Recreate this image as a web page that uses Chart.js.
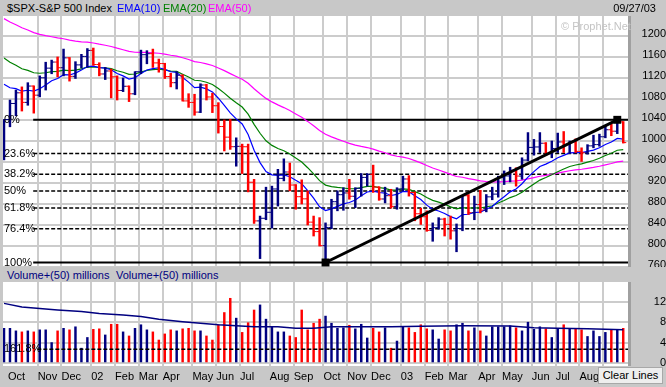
<!DOCTYPE html>
<html>
<head>
<meta charset="utf-8">
<script src="https://cdn.jsdelivr.net/npm/chart.js@4.4.1/dist/chart.umd.min.js"></script>
<style>
  html, body { margin: 0; padding: 0; }
  body { width: 666px; height: 387px; background: #c8c8c8; position: relative; overflow: hidden;
         font: 11px "Liberation Sans", Arial, sans-serif; }
  .t { position: absolute; line-height: 13px; white-space: nowrap; }
  canvas { position: absolute; }
  .strip { position: absolute; left: 628px; width: 3px; background: #a0a0a0; }
  #clear { position: absolute; left: 598px; top: 367px; width: 63px; height: 15px; background: #eeeeee;
           border: 1px solid #a8a8a8; text-align: center; line-height: 15px; }
</style>
</head>
<body>
<canvas id="price" width="663" height="251" style="left:3px;top:16px"></canvas>
<canvas id="volume" width="663" height="105" style="left:3px;top:282px"></canvas>
<div class="strip" style="top:16px;height:251px"></div>
<div class="strip" style="top:282px;height:84px"></div>
<div class="t" style="left:7px;top:2px">$SPX-S&amp;P 500 Index</div>
<div class="t" style="left:117px;top:2px;color:#0000ff">EMA(10)</div>
<div class="t" style="left:163px;top:2px;color:#008000">EMA(20)</div>
<div class="t" style="left:208px;top:2px;color:#ff00ff">EMA(50)</div>
<div class="t" style="right:10px;top:2px">09/27/03</div>
<div class="t" style="left:561px;top:20px;color:#c4c4c4">© Prophet.Net</div>
<div class="t" style="left:7px;top:269px;color:#000080">Volume+(50) millions</div>
<div class="t" style="left:116px;top:269px;color:#000080">Volume+(50) millions</div>
<div id="clear">Clear Lines</div>
<script>
// weekly bars, index 0 = first week shown (late Sep 2001), 104 = last (late Sep 2003)
const opens = [965.8, 1040.9, 1071.4, 1091.7, 1073.5, 1104.6, 1087.2, 1120.3, 1138.7, 1150.3,
  1139.5, 1158.3, 1123.1, 1144.9, 1161.0, 1172.5, 1145.6, 1127.6, 1133.3, 1122.2,
  1096.2, 1104.2, 1089.8, 1131.8, 1164.3, 1166.2, 1148.7, 1147.4, 1122.7, 1111.0,
  1125.2, 1076.3, 1073.4, 1055.0, 1106.6, 1083.8, 1067.1, 1027.5, 1007.3, 989.1,
  989.8, 989.0, 921.4, 847.8, 852.8, 864.2, 908.6, 928.8, 940.9, 916.1,
  893.9, 889.8, 845.4, 827.4, 800.6, 835.3, 884.4, 897.7, 901.0, 894.7,
  909.8, 930.6, 936.3, 912.2, 889.5, 895.8, 875.4, 908.6, 927.6, 901.8,
  861.4, 855.7, 829.7, 834.9, 851.2, 841.2, 828.9, 833.3, 895.8, 863.5,
  878.9, 868.3, 893.6, 898.8, 930.1, 933.4, 944.3, 933.2, 963.6, 987.8,
  988.6, 995.7, 976.2, 985.7, 998.1, 993.3, 998.7, 980.2, 977.6, 990.7,
  993.1, 1008.0, 1021.4, 1018.6, 1036.3];
const highs = [1041, 1078, 1097, 1103, 1111, 1105, 1124, 1150, 1154, 1160,
  1175, 1159, 1151, 1165, 1176, 1177, 1149, 1140, 1137, 1124,
  1120, 1105, 1132, 1173, 1172, 1175, 1156, 1148, 1129, 1132,
  1126, 1090, 1089, 1109, 1108, 1091, 1073, 1040, 1041, 1006,
  994, 994, 927, 857, 912, 914, 946, 966, 958, 917,
  926, 905, 857, 854, 844, 889, 905, 911, 927, 911,
  938, 938, 954, 913, 912, 908, 911, 933, 934, 903,
  872, 867, 844, 854, 853, 857, 842, 896, 898, 895,
  906, 898, 912, 933, 943, 950, 949, 968, 1016, 1003,
  1016, 997, 1000, 1015, 1018, 1000, 1004, 987, 993, 1011,
  1013, 1029, 1032, 1040.3, 1037];
const lows = [964, 1027, 1048, 1057, 1068, 1053, 1084, 1097, 1128, 1122,
  1124, 1114, 1119, 1139, 1140, 1144, 1124, 1117, 1082, 1078,
  1094, 1075, 1088, 1128, 1147, 1140, 1131, 1119, 1103, 1099,
  1076, 1064, 1049, 1054, 1078, 1054, 1015, 981, 984, 952,
  938, 903, 843, 776, 850, 834, 876, 924, 905, 870,
  880, 840, 819, 800, 768.6, 833, 867, 868, 889, 873,
  895, 914, 902, 887, 882, 872, 870, 905, 895, 848,
  841, 828, 809, 832, 819, 813, 789, 829, 860, 850,
  863, 865, 888, 893, 917, 922, 914, 927, 962, 973,
  978, 972, 968, 978, 978, 976, 978, 961, 975, 987,
  990, 1006, 1010, 1014, 996];
const closes = [1040.9, 1071.4, 1091.7, 1073.5, 1104.6, 1087.2, 1120.3, 1138.7, 1150.3, 1139.5,
  1158.3, 1123.1, 1144.9, 1161.0, 1172.5, 1145.6, 1127.6, 1133.3, 1122.2, 1096.2,
  1104.2, 1089.8, 1131.8, 1164.3, 1166.2, 1148.7, 1147.4, 1122.7, 1111.0, 1125.2,
  1076.3, 1073.4, 1055.0, 1106.6, 1083.8, 1067.1, 1027.5, 1007.3, 989.1, 989.8,
  989.0, 921.4, 847.8, 852.8, 864.2, 908.6, 928.8, 940.9, 916.1, 893.9,
  889.8, 845.4, 827.4, 800.6, 835.3, 884.4, 897.7, 901.0, 894.7, 909.8,
  930.6, 936.3, 912.2, 889.5, 895.8, 875.4, 908.6, 927.6, 901.8, 861.4,
  855.7, 829.7, 834.9, 851.2, 841.2, 828.9, 833.3, 895.8, 863.5, 878.9,
  868.3, 893.6, 898.8, 930.1, 933.4, 944.3, 933.2, 963.6, 987.8, 988.6,
  995.7, 976.2, 985.7, 998.1, 993.3, 998.7, 980.2, 977.6, 990.7, 993.1,
  1008.0, 1021.4, 1018.6, 1036.3, 996.9];
const volumes = [6.8, 6.8, 6.3, 6.1, 6.3, 6.1, 6.5, 6.5, 4.0, 6.3,
  6.8, 6.5, 7.1, 2.9, 5.0, 6.6, 6.7, 5.5, 7.6, 7.6,
  6.1, 5.3, 6.8, 7.5, 6.5, 6.1, 4.5, 5.7, 6.5, 6.3,
  6.7, 6.8, 6.3, 6.3, 5.3, 4.5, 7.5, 9.9, 12.7, 8.8,
  6.0, 7.9, 10.4, 11.4, 8.6, 7.1, 6.1, 6.1, 5.3, 5.0,
  10.4, 6.5, 7.8, 8.6, 9.2, 7.8, 6.8, 6.9, 7.4, 6.7,
  7.6, 4.9, 6.8, 6.1, 6.9, 2.9, 4.3, 7.1, 6.9, 6.0,
  7.5, 6.7, 6.5, 4.7, 6.5, 6.3, 7.5, 7.8, 6.3, 6.9,
  6.3, 5.3, 7.1, 7.1, 7.1, 7.3, 6.9, 6.3, 8.0, 6.6,
  7.1, 6.7, 5.0, 6.8, 7.5, 6.8, 6.8, 6.5, 5.2, 6.3,
  5.2, 6.0, 6.5, 6.5, 6.8];
const ema10 = [1108, 1101.3, 1099.6, 1094.8, 1096.6, 1094.9, 1099.5, 1106.6, 1114.6, 1119.1,
  1126.2, 1125.7, 1129.2, 1135.0, 1141.8, 1142.5, 1139.8, 1138.6, 1135.6, 1128.5,
  1124.0, 1117.8, 1120.4, 1128.4, 1135.2, 1137.7, 1139.4, 1136.4, 1131.8, 1130.6,
  1120.7, 1112.1, 1101.7, 1102.6, 1099.2, 1093.4, 1081.4, 1067.9, 1053.6, 1042.0,
  1032.4, 1012.2, 982.3, 958.8, 941.6, 935.6, 934.4, 935.5, 932.0, 925.1,
  918.7, 905.4, 891.2, 874.7, 867.5, 870.6, 875.5, 880.1, 882.8, 887.7,
  895.5, 902.9, 904.6, 901.9, 900.8, 896.2, 898.4, 903.7, 903.4, 895.7,
  888.5, 877.8, 870.0, 866.6, 861.9, 855.9, 851.8, 859.8, 860.5, 863.8,
  864.6, 869.9, 875.2, 885.1, 893.9, 903.1, 908.6, 918.6, 931.1, 941.6,
  951.4, 955.9, 961.4, 968.0, 972.6, 977.4, 977.9, 977.8, 980.1, 982.5,
  987.1, 993.4, 998.0, 1004.9, 1003.5];
const ema20 = [1158, 1149.8, 1144.2, 1137.5, 1134.4, 1129.9, 1129.0, 1129.9, 1131.9, 1132.6,
  1135.0, 1133.9, 1134.9, 1137.4, 1140.8, 1141.2, 1139.9, 1139.3, 1137.7, 1133.7,
  1130.9, 1127.0, 1127.5, 1131.0, 1134.3, 1135.7, 1136.8, 1135.5, 1133.1, 1132.4,
  1127.0, 1121.9, 1115.6, 1114.7, 1111.8, 1107.5, 1099.9, 1091.1, 1081.4, 1072.7,
  1064.7, 1051.1, 1031.7, 1014.7, 1000.4, 991.6, 985.6, 981.4, 975.2, 967.4,
  960.0, 949.1, 937.5, 924.5, 916.0, 913.0, 911.5, 910.5, 909.0, 909.1,
  911.1, 913.5, 913.4, 911.1, 909.6, 906.4, 906.6, 908.6, 907.9, 903.5,
  898.9, 892.3, 886.9, 883.5, 879.4, 874.6, 870.7, 873.1, 872.2, 872.8,
  872.4, 874.4, 876.7, 881.8, 886.7, 892.2, 896.1, 902.5, 910.6, 918.1,
  925.5, 930.3, 935.6, 941.5, 946.5, 951.4, 954.2, 956.4, 959.7, 962.8,
  967.1, 972.3, 976.7, 982.4, 983.7];
const ema50 = [1233, 1226.7, 1221.4, 1215.6, 1211.3, 1206.4, 1203.0, 1200.5, 1198.5, 1196.2,
  1194.7, 1191.9, 1190.1, 1188.9, 1188.3, 1186.6, 1184.3, 1182.3, 1179.9, 1176.7,
  1173.8, 1170.5, 1169.0, 1168.8, 1168.7, 1167.9, 1167.1, 1165.4, 1163.2, 1161.7,
  1158.4, 1155.1, 1151.1, 1149.4, 1146.8, 1143.7, 1139.1, 1134.0, 1128.3, 1122.9,
  1117.6, 1109.9, 1099.6, 1090.0, 1081.1, 1074.4, 1068.7, 1063.6, 1057.9, 1051.4,
  1045.1, 1037.3, 1029.0, 1020.1, 1012.8, 1007.8, 1003.5, 999.5, 995.4, 992.0,
  989.6, 987.5, 984.6, 980.8, 977.5, 973.5, 970.9, 969.2, 966.6, 962.5,
  958.3, 953.2, 948.6, 944.8, 940.7, 936.3, 932.3, 930.9, 928.2, 926.3,
  924.0, 922.8, 921.9, 922.2, 922.6, 923.5, 923.9, 925.4, 927.9, 930.3,
  932.8, 934.5, 936.5, 938.9, 941.1, 943.3, 944.8, 946.1, 947.8, 949.6,
  951.9, 954.6, 957.1, 960.2, 961.7];
const volAvgWeeks = [0, 3, 6, 9, 13, 16, 20, 23, 26, 30, 33, 36, 39, 42, 46, 49, 52, 55, 60, 65, 70, 77, 85, 89, 93, 98, 104];
const volAvg = [11.7, 11.0, 10.7, 10.4, 10.1, 9.7, 9.4, 9.1, 8.6, 8.1, 7.8, 7.5, 7.3, 7.1, 7.1, 6.8, 6.8, 7.1, 7.1, 7.1, 7.2, 7.3, 7.25, 6.9, 6.8, 6.7, 6.5];

const monthWeeks = [1, 6, 10, 15, 19, 23, 27, 32, 36, 40, 45, 49, 54, 58, 62, 67, 71, 75, 80, 84, 89, 93, 97, 101];
const monthLabels = ['Oct', 'Nov', 'Dec', '02', 'Feb', 'Mar', 'Apr', 'May', 'Jun', 'Jul', 'Aug', 'Sep',
  'Oct', 'Nov', 'Dec', '03', 'Feb', 'Mar', 'Apr', 'May', 'Jun', 'Jul', 'Aug', 'Sep'];
const priceTicks = [760, 800, 840, 880, 920, 960, 1000, 1040, 1080, 1120, 1160, 1200];
const volumeTicks = [0, 4, 8, 12];

const fibLabels = ['0%', '23.6%', '38.2%', '50%', '61.8%', '76.4%', '100%'];
const fibValues = [1040.3, 976.2, 936.5, 904.5, 872.4, 832.7, 768.6];
const extLabel = '161.8%';
const extValue = 2.7;   // where the 161.8% line lands, in the volume pane
const trendWeeks = [54, 103];
const trendValues = [768.6, 1040.3];

const NAVY = '#000080', RED = '#ff0000', GRID = '#cccccc';
const FONT = {family: '"Liberation Sans", Arial, sans-serif', size: 11};
const X_MIN = -0.17, X_MAX = 104.8;
const GRID_SHIFT = 0.35;

const barColors = closes.map((c, i) => c >= (i ? closes[i - 1] : opens[0]) ? NAVY : RED);

const whiteArea = {
    id: 'whiteArea',
    beforeDraw(chart) {
        const {ctx, chartArea: a} = chart;
        ctx.save();
        ctx.fillStyle = '#ffffff';
        ctx.fillRect(a.left, a.top, a.right - a.left, a.bottom - a.top);
        ctx.restore();
    }
};

const levelLabels = {
    id: 'levelLabels',
    afterDatasetsDraw(chart, args, opts) {
        const {ctx, chartArea: a, scales} = chart;
        ctx.save();
        ctx.font = '11px "Liberation Sans", Arial, sans-serif';
        ctx.fillStyle = '#000';
        ctx.textBaseline = 'middle';
        opts.items.forEach(it => ctx.fillText(it.text, a.left + 1, scales.y.getPixelForValue(it.value)));
        ctx.restore();
    }
};

function noPadding(s) {
    s.paddingTop = 0;
    s.paddingBottom = 0;
    s.paddingLeft = 0;
    s.paddingRight = 0;
}

function xAxis(showLabels) {
    return {
        type: 'linear', min: X_MIN, max: X_MAX, offset: false,
        afterBuildTicks: s => { s.ticks = monthWeeks.map(w => ({value: w - GRID_SHIFT})); },
        afterFit: s => { s.height = showLabels ? 21 : 0; noPadding(s); },
        ticks: {
            display: showLabels, callback: (v, i) => monthLabels[i], align: 'start',
            autoSkip: false, maxRotation: 0, padding: 4, color: '#000', font: FONT
        },
        grid: {color: c => c.index === 0 ? 'rgba(0,0,0,0)' : GRID, lineWidth: 2, drawTicks: false, offset: false},
        border: {display: false}
    };
}

function yAxis(min, max, ticks, padding, labelOffset) {
    return {
        position: 'right', min: min, max: max,
        afterBuildTicks: s => { s.ticks = ticks.map(v => ({value: v})); },
        afterFit: s => { s.width = 38; noPadding(s); },
        ticks: {
            color: '#000', font: FONT, padding: padding, crossAlign: 'far', labelOffset: labelOffset,
            callback: v => String(v)
        },
        grid: {color: GRID, lineWidth: 2, drawTicks: false},
        border: {display: false}
    };
}

function lineSet(xs, ys, color, width, dash) {
    return {
        type: 'line',
        data: xs.map((x, i) => ({x: x, y: ys[i]})),
        borderColor: color, borderWidth: width, borderDash: dash || [],
        pointRadius: 0, tension: 0
    };
}

const weeks = closes.map((c, i) => i);

const fibSets = fibValues.map((v, i) => {
    const solid = i === 0 || i === fibValues.length - 1;
    return lineSet([4.9, X_MAX], [v, v], '#000', solid ? 2 : 1.5, solid ? [] : [4, 2]);
});

new Chart(document.getElementById('price'), {
    type: 'line',
    data: {
        datasets: [
            {
                type: 'line',
                data: trendWeeks.map((x, i) => ({x: x, y: trendValues[i]})),
                borderColor: '#000', borderWidth: 3,
                pointStyle: 'rect', pointRadius: 5.6, pointBackgroundColor: '#000', pointBorderWidth: 0,
                clip: false
            },
            {
                type: 'line', showLine: false,
                data: closes.map((y, i) => ({x: i, y: y})),
                pointStyle: 'dash', pointRadius: 3, pointBorderWidth: 1,
                pointBorderColor: barColors, pointBackgroundColor: barColors
            },
            {
                type: 'line', showLine: false,
                data: opens.map((y, i) => ({x: i, y: y})),
                pointStyle: 'dash', pointRadius: 3, pointRotation: 180, pointBorderWidth: 1,
                pointBorderColor: barColors, pointBackgroundColor: barColors
            },
            {
                type: 'bar',
                data: highs.map((h, i) => ({x: i, y: [lows[i], h]})),
                backgroundColor: barColors, borderWidth: 0, barThickness: 1.8, grouped: false
            },
            lineSet(weeks, ema10, '#0000ff', 1.2),
            lineSet(weeks, ema20, '#008000', 1.2),
            lineSet(weeks, ema50, '#ff00ff', 1.2),
            ...fibSets
        ]
    },
    options: {
        responsive: false, animation: false, events: [],
        layout: {padding: 0, autoPadding: false},
        scales: {
            x: xAxis(false),
            y: yAxis(760, 1238, priceTicks, 4.5, -2)
        },
        plugins: {
            legend: {display: false},
            tooltip: {enabled: false},
            levelLabels: {items: fibLabels.map((t, i) => ({text: t, value: fibValues[i]}))}
        }
    },
    plugins: [whiteArea, levelLabels]
});

new Chart(document.getElementById('volume'), {
    type: 'line',
    data: {
        datasets: [
            lineSet([5.6, X_MAX], [extValue, extValue], '#000', 1.5, [4, 2]),
            lineSet(volAvgWeeks, volAvg, NAVY, 1.5),
            {
                type: 'bar',
                data: volumes.map((v, i) => ({x: i, y: v})),
                backgroundColor: barColors, borderWidth: 0, barThickness: 1.8, grouped: false
            }
        ]
    },
    options: {
        responsive: false, animation: false, events: [],
        layout: {padding: 0, autoPadding: false},
        scales: {
            x: xAxis(true),
            y: yAxis(-0.6, 15.9, volumeTicks, 16.8, 0)
        },
        plugins: {
            legend: {display: false},
            tooltip: {enabled: false},
            levelLabels: {items: [{text: extLabel, value: extValue}]}
        }
    },
    plugins: [whiteArea, levelLabels]
});
</script>
</body>
</html>
